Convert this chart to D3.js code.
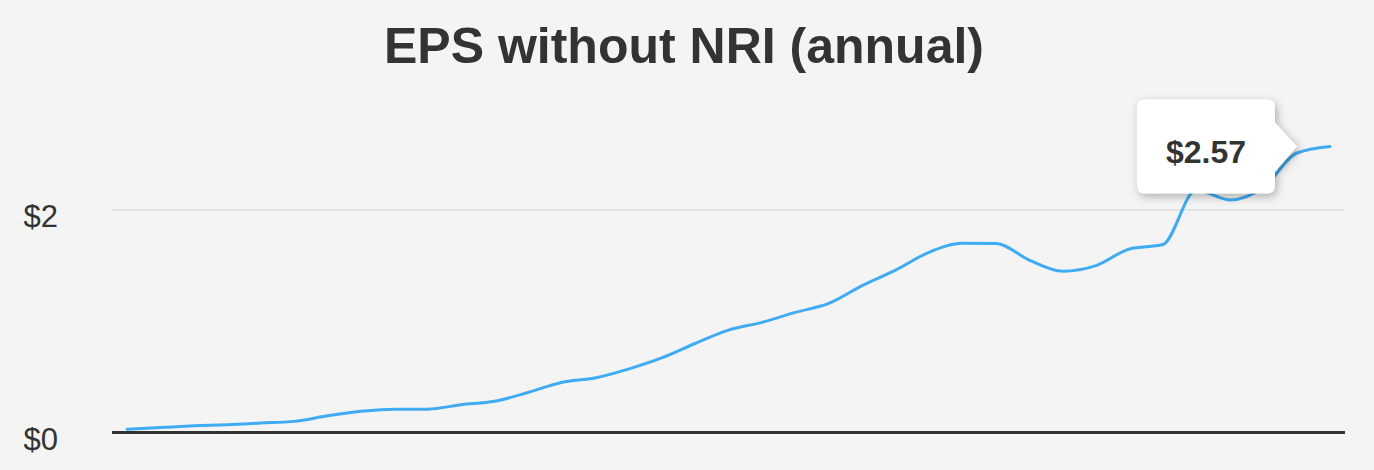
<!DOCTYPE html>
<html>
<head>
<meta charset="utf-8">
<script src="https://cdn.jsdelivr.net/npm/d3@7"></script>
<style>
  html, body { margin: 0; padding: 0; background: #f4f4f4; }
  svg { display: block; font-family: "Liberation Sans", Arial, Helvetica, sans-serif; }
</style>
</head>
<body>
<div id="vis"></div>
<script>
var width = 1374;
var height = 470;

// annual EPS without NRI, one value per year
var years = d3.range(1987, 2024).map(String);
var eps = [0.03, 0.045, 0.06, 0.07, 0.085, 0.10, 0.15, 0.19, 0.21, 0.21,
           0.25, 0.28, 0.36, 0.45, 0.49, 0.57, 0.67, 0.80, 0.92, 0.99,
           1.08, 1.16, 1.32, 1.46, 1.62, 1.70, 1.70, 1.55, 1.45, 1.50,
           1.65, 1.69, 2.18, 2.09, 2.20, 2.51, 2.57];
var yTicks = [0, 2];
var tipLabel = '$2.57';

var data = years.map(function (y, i) { return { year: y, value: eps[i] }; });

var svg = d3.select('#vis')
  .append('svg')
  .attr('width', width)
  .attr('height', height);

svg.append('rect')
  .attr('width', width)
  .attr('height', height)
  .attr('fill', '#f4f4f4');

var x = d3.scalePoint()
  .domain(years)
  .range([112, 1345])
  .padding(0.45);

var y = d3.scaleLinear()
  .domain([0, 2])
  .range([432.5, 210]);

// title
svg.append('text')
  .attr('x', 684)
  .attr('y', 63)
  .attr('text-anchor', 'middle')
  .attr('font-size', 50)
  .attr('font-weight', 'bold')
  .attr('fill', '#333')
  .text('EPS without NRI (annual)');

// grid lines
svg.selectAll('.grid')
  .data(yTicks)
  .enter().append('line')
  .attr('class', 'grid')
  .attr('x1', 112)
  .attr('x2', 1345)
  .attr('y1', function (d) { return y(d); })
  .attr('y2', function (d) { return y(d); })
  .attr('stroke', function (d) { return d === 0 ? '#333' : '#e4e4e4'; })
  .attr('stroke-width', function (d) { return d === 0 ? 3 : 2; });

// y labels
svg.selectAll('.ylab')
  .data(yTicks)
  .enter().append('text')
  .attr('class', 'ylab')
  .attr('x', 58)
  .attr('y', function (d) { return y(d) + 17; })
  .attr('text-anchor', 'end')
  .attr('font-size', 31)
  .attr('fill', '#333')
  .text(function (d) { return '$' + d; });

// the line
var line = d3.line()
  .x(function (d) { return x(d.year); })
  .y(function (d) { return y(d.value); })
  .curve(d3.curveMonotoneX);

svg.append('path')
  .datum(data)
  .attr('d', line)
  .attr('fill', 'none')
  .attr('stroke', '#3fabf3')
  .attr('stroke-width', 3)
  .attr('stroke-linecap', 'round');

// tooltip on last point
var defs = svg.append('defs');
var filter = defs.append('filter')
  .attr('id', 'shadow')
  .attr('x', '-20%').attr('y', '-20%')
  .attr('width', '150%').attr('height', '150%');
filter.append('feDropShadow')
  .attr('dx', 2)
  .attr('dy', 3)
  .attr('stdDeviation', 4)
  .attr('flood-color', '#000')
  .attr('flood-opacity', 0.3);

var last = data[data.length - 1];
var tipX = x(last.year) - 33;
var tipY = y(last.value);
var bw = 138, bh = 94, r = 8, aw = 22;
var bx = tipX - aw - bw;
var by = tipY - 47;

var p = d3.path();
p.moveTo(bx + r, by);
p.lineTo(bx + bw - r, by);
p.quadraticCurveTo(bx + bw, by, bx + bw, by + r);
p.lineTo(bx + bw, tipY - 24);
p.lineTo(tipX, tipY);
p.lineTo(bx + bw, tipY + 25);
p.lineTo(bx + bw, by + bh - r);
p.quadraticCurveTo(bx + bw, by + bh, bx + bw - r, by + bh);
p.lineTo(bx + r, by + bh);
p.quadraticCurveTo(bx, by + bh, bx, by + bh - r);
p.lineTo(bx, by + r);
p.quadraticCurveTo(bx, by, bx + r, by);
p.closePath();

svg.append('path')
  .attr('d', p.toString())
  .attr('fill', '#fff')
  .attr('filter', 'url(#shadow)');

svg.append('text')
  .attr('x', bx + bw / 2)
  .attr('y', tipY + 16)
  .attr('text-anchor', 'middle')
  .attr('font-size', 32)
  .attr('font-weight', 'bold')
  .attr('fill', '#333')
  .text(tipLabel);
</script>
</body>
</html>
